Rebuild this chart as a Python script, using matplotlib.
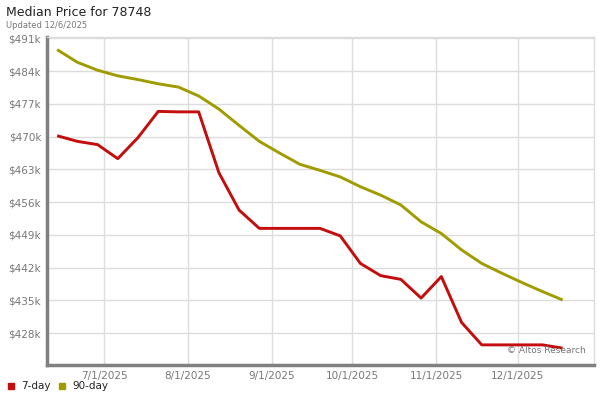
import numpy as np
import matplotlib.pyplot as plt

# weekly median price, in $k
day7 = [470.2, 469.0, 468.3, 465.3, 469.8, 475.4, 475.3, 475.3, 462.3, 454.3,
        450.4, 450.4, 450.4, 450.4, 448.8, 442.9, 440.3, 439.5, 435.5, 440.1,
        430.3, 425.5, 425.5, 425.5, 425.5, 424.8]
day90 = [488.6, 485.9, 484.2, 483.0, 482.2, 481.3, 480.6, 478.7, 475.9, 472.4,
         469.0, 466.5, 464.1, 462.8, 461.4, 459.3, 457.5, 455.4, 451.8, 449.3,
         445.8, 442.9, 440.8, 438.8, 436.9, 435.1]
month_labels = ['7/1/2025', '8/1/2025', '9/1/2025', '10/1/2025', '11/1/2025', '12/1/2025']
month_pos = [2.33, 6.46, 10.61, 14.59, 18.76, 22.77]
y_ticks = [428, 435, 442, 449, 456, 463, 470, 477, 484, 491]

red = '#c40d0d'
olive = '#a09c00'
grey = '#777777'

x = np.arange(len(day7))

fig = plt.figure(figsize=(6, 4), dpi=100)
ax = fig.add_axes([0.078, 0.0875, 0.912, 0.82])

ax.plot(x, day90, color=olive, lw=2.1, solid_capstyle='butt', zorder=3)
ax.plot(x, day7, color=red, lw=2.1, solid_capstyle='butt', zorder=3)

ax.set_xlim(-0.51, 26.55)
ax.set_ylim(421.2, 491.3)
ax.set_yticks(y_ticks)
ax.set_yticklabels(['$%dk' % v for v in y_ticks])
ax.set_xticks(month_pos)
ax.set_xticklabels(month_labels)
ax.tick_params(length=0, labelsize=7.5, colors=grey, pad=4)
ax.grid(True, color='#dcdcdc', lw=1)
ax.set_axisbelow(True)

for s in ['top', 'right']:
    ax.spines[s].set_color('#dcdcdc')
    ax.spines[s].set_linewidth(1)
for s in ['left', 'bottom']:
    ax.spines[s].set_color('#808080')
    ax.spines[s].set_linewidth(2.5)

ax.text(0.985, 0.03, '\u00a9 Altos Research', transform=ax.transAxes,
        ha='right', va='bottom', fontsize=6.5, color=grey)

fig.text(0.01, 0.968, 'Median Price for 78748', fontsize=9, color='#222222', va='center')
fig.text(0.01, 0.937, 'Updated 12/6/2025', fontsize=6, color=grey, va='center')

# legend
fig.patches.append(plt.Rectangle((0.013, 0.028), 0.01, 0.015, color=red,
                                 transform=fig.transFigure, figure=fig))
fig.text(0.035, 0.035, '7-day', fontsize=7.5, color='#222222', va='center')
fig.patches.append(plt.Rectangle((0.098, 0.028), 0.01, 0.015, color=olive,
                                 transform=fig.transFigure, figure=fig))
fig.text(0.12, 0.035, '90-day', fontsize=7.5, color='#222222', va='center')

fig.savefig('out.png', dpi=100)
